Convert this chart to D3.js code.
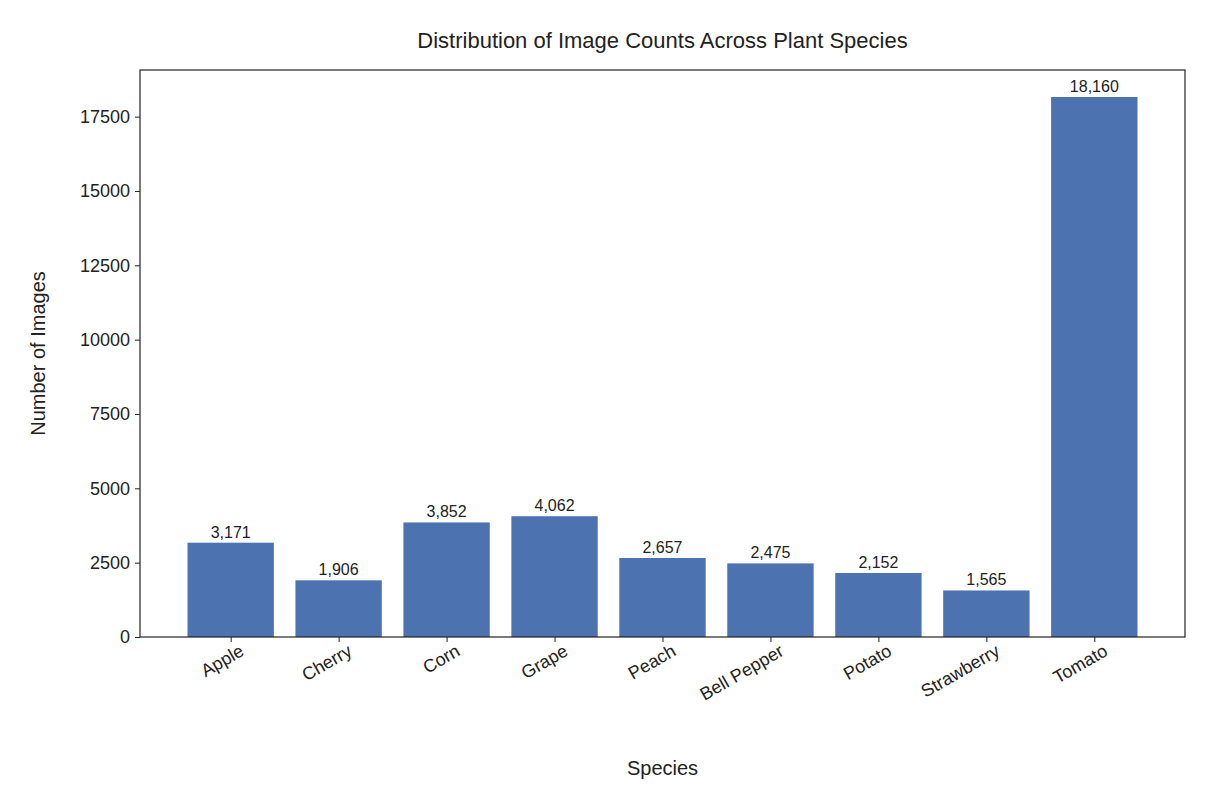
<!DOCTYPE html>
<html>
<head>
<meta charset="utf-8">
<script src="https://cdn.jsdelivr.net/npm/d3@7"></script>
<style>
  body { margin: 0; background: #fff; }
  text { font-family: "Liberation Sans", Arial, sans-serif; fill: #222; }
</style>
</head>
<body>
<svg width="1215" height="810"></svg>
<script>
var species = ["Apple", "Cherry", "Corn", "Grape", "Peach", "Bell Pepper", "Potato", "Strawberry", "Tomato"];
var counts = [3171, 1906, 3852, 4062, 2657, 2475, 2152, 1565, 18160];
var yTicks = [0, 2500, 5000, 7500, 10000, 12500, 15000, 17500];

var svg = d3.select("svg");
var margin = { top: 70, right: 30, bottom: 173, left: 140 };
var plotWidth = 1215 - margin.left - margin.right;
var plotHeight = 810 - margin.top - margin.bottom;

var g = svg.append("g").attr("transform", "translate(" + margin.left + "," + margin.top + ")");

// matplotlib-like: bar width 0.8, 5% margins
var x = d3.scaleLinear().domain([-0.84, species.length - 1 + 0.84]).range([0, plotWidth]);
var y = d3.scaleLinear().domain([0, d3.max(counts) * 1.05]).range([plotHeight, 0]);
var barW = x(0.8) - x(0);

g.selectAll("rect.bar").data(counts).enter().append("rect")
  .attr("x", function(d, i) { return x(i) - barW / 2; })
  .attr("y", function(d) { return y(d); })
  .attr("width", barW)
  .attr("height", function(d) { return plotHeight - y(d); })
  .attr("fill", "#4c72b0");

g.selectAll("text.val").data(counts).enter().append("text")
  .attr("x", function(d, i) { return x(i); })
  .attr("y", function(d) { return y(d) - 5; })
  .attr("text-anchor", "middle")
  .style("font-size", "16px")
  .text(function(d) { return d3.format(",")(d); });

var yAxis = g.append("g")
  .call(d3.axisLeft(y).tickValues(yTicks).tickSize(5).tickPadding(5).tickFormat(d3.format("d")));
yAxis.select(".domain").remove();
yAxis.selectAll("text").style("font-size", "18px");
yAxis.selectAll("line").attr("stroke", "#222");

var xAxis = g.append("g").attr("transform", "translate(0," + plotHeight + ")")
  .call(d3.axisBottom(x).tickValues(d3.range(species.length)).tickSize(5).tickFormat(function(i) { return species[i]; }));
xAxis.select(".domain").remove();
xAxis.selectAll("line").attr("stroke", "#222");
xAxis.selectAll("text")
  .style("font-size", "18px")
  .attr("text-anchor", "end")
  .attr("dx", "0.3em")
  .attr("dy", "0.6em")
  .attr("transform", "translate(0,4) rotate(-30)");

g.append("rect").attr("width", plotWidth).attr("height", plotHeight)
  .attr("fill", "none").attr("stroke", "#222").attr("stroke-width", 1.2);

svg.append("text").attr("x", margin.left + plotWidth / 2).attr("y", 48)
  .attr("text-anchor", "middle").style("font-size", "22px")
  .text("Distribution of Image Counts Across Plant Species");

svg.append("text").attr("x", margin.left + plotWidth / 2).attr("y", 775)
  .attr("text-anchor", "middle").style("font-size", "20px").text("Species");

svg.append("text").attr("transform", "translate(45," + (margin.top + plotHeight / 2) + ") rotate(-90)")
  .attr("text-anchor", "middle").style("font-size", "20px").text("Number of Images");
</script>
</body>
</html>
